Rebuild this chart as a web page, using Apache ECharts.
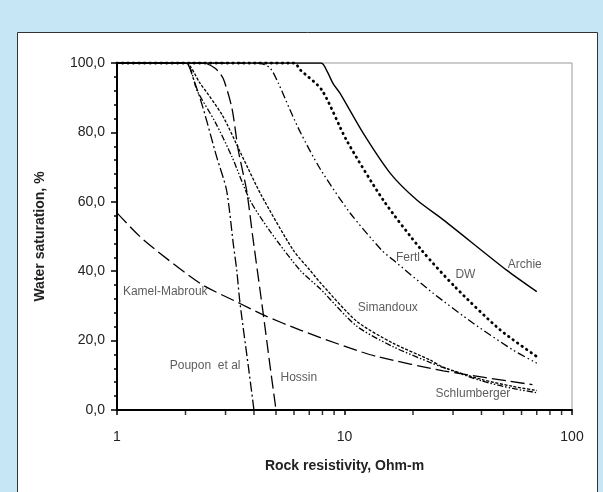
<!DOCTYPE html>
<html>
<head>
<meta charset="utf-8">
<script src="https://cdn.jsdelivr.net/npm/echarts@6/dist/echarts.min.js"></script>
<style>
html, body { margin: 0; padding: 0; background: #c6e6f6; }
#chart { width: 603px; height: 492px; }
</style>
</head>
<body>
<div id="chart"></div>
<script>
// curves: [resistivity, water saturation %]
var archie = [[1,100],[7.9,100],[8.4,97.5],[8.9,94.1],[9.55,91.3],[12.1,79.7],[15.9,68.2],[20.8,60.5],[27.2,54.8],[51.6,40.3],[70,34.1]];
var dw = [[1,100],[6.0,100],[6.4,98],[7.95,92.2],[10.2,77.8],[14.8,60.5],[21.8,46.1],[30.6,35.5],[48.3,23.1],[70,15.4]];
var fertl = [[1,100],[4.2,100],[4.7,98.6],[5.12,94.2],[5.76,86.5],[6.4,80],[7.8,69.6],[10.6,56.7],[14.6,46],[16.4,43.2],[24.6,33.6],[36.8,25],[55,17.3],[70,13.5]];
var simandoux = [[1,100],[2.0,100],[2.3,94.5],[2.9,85],[3.5,74],[4.3,62],[5.96,46],[7.05,40.3],[7.8,36.8],[11.3,25.6],[16.4,19.2],[23.8,14.4],[27,12.4],[40,8.8],[55,6.8],[70,5.6]];
var schlumberger = [[1,100],[2.0,100],[2.25,92],[2.7,83],[3.2,73],[3.84,60.5],[4.71,51.5],[6.37,40.3],[7.8,35],[11.3,24.2],[16.4,18.2],[24,13.6],[27,12.3],[40,8.4],[55,6.2],[70,5.0]];
var kamelMabrouk = [[1,56.8],[1.31,49],[2.32,36.5],[3.47,30.7],[4.4,27.4],[6.4,23],[10.6,17.8],[13.9,15.4],[27.2,11.3],[67,7.3]];
var poupon = [[1,100],[2.0,100],[2.16,95.7],[2.39,87],[2.74,73],[3.03,63.4],[3.25,47.5],[3.36,40.3],[3.47,31],[3.78,12.5],[4.0,0]];
var hossin = [[1,100],[2.4,100],[2.7,98.5],[2.93,95.5],[3.2,87],[3.41,75],[3.72,63],[3.95,50],[4.4,27.4],[4.7,13],[5.0,0]];

// curve names written on the plot, at [resistivity, saturation]
var labelNames = ['Archie','DW','Fertl','Simandoux','Schlumberger','Kamel-Mabrouk','Poupon  et al','Hossin'];
var labelPos = [[62,41.8],[34,38.9],[19,43.8],[15.5,29.4],[36.7,4.6],[1.63,34],[2.44,12.7],[6.3,9.2]];

var yTicks = [0,20,40,60,80,100];
var xMinorTicks = [2,3,4,5,6,7,8,9,20,30,40,50,60,70,80,90];

var font = 'Liberation Sans, Arial, sans-serif';

var curve = function(name, data, type, width, cap){
	return {
		name: name,
		type: 'line',
		data: data,
		symbol: 'none',
		smooth: 0.25,
		silent: true,
		lineStyle: { color: '#000', width: width || 1.3, type: type, cap: cap || 'butt' },
		z: 3
	};
};

var myChart = echarts.init(document.getElementById('chart'));
var option = {
	animation: false,
	backgroundColor: '#c6e6f6',
	textStyle: { fontFamily: font },
	graphic: [{
		type: 'rect',
		shape: { x: 17.5, y: 32.5, width: 580, height: 480 },
		style: { fill: '#fff', stroke: '#333', lineWidth: 1 },
		z: -1
	}],
	grid: {
		left: 117, top: 63, width: 455, height: 347,
		show: true, borderColor: '#999', borderWidth: 1
	},
	xAxis: {
		type: 'log',
		logBase: 10,
		min: 1,
		max: 100,
		name: 'Rock resistivity, Ohm-m',
		nameLocation: 'middle',
		nameGap: 49,
		nameTextStyle: { fontSize: 14, fontWeight: 'bold', color: '#222', fontFamily: font },
		axisLine: { lineStyle: { color: '#000', width: 2 } },
		axisTick: { length: 5, lineStyle: { color: '#000', width: 1.5 } },
		axisLabel: { margin: 20, fontSize: 14, color: '#222', fontFamily: font },
		splitLine: { show: false }
	},
	yAxis: {
		type: 'value',
		min: 0,
		max: 100,
		interval: 20,
		name: 'Water saturation, %',
		nameLocation: 'middle',
		nameGap: 70,
		nameTextStyle: { fontSize: 14, fontWeight: 'bold', color: '#222', fontFamily: font },
		axisLine: { show: true, lineStyle: { color: '#000', width: 2 } },
		axisTick: { show: true, length: 6, lineStyle: { color: '#000', width: 1.5 } },
		minorTick: { show: true, splitNumber: 5, length: 3, lineStyle: { color: '#000', width: 1.5 } },
		axisLabel: {
			margin: 12, fontSize: 14, color: '#222', fontFamily: font,
			formatter: function(v){ return yTicks.indexOf(v) >= 0 ? v.toFixed(1).replace('.', ',') : ''; }
		},
		splitLine: { show: false }
	},
	series: [
		curve('Archie', archie, 'solid', 1.4),
		curve('DW', dw, [0.5, 5], 2.8, 'round'),
		curve('Fertl', fertl, [8, 3, 1.5, 3, 1.5, 3]),
		curve('Simandoux', simandoux, [3, 1.6]),
		curve('Schlumberger', schlumberger, [6, 2, 1.5, 2, 1.5, 2]),
		curve('Kamel-Mabrouk', kamelMabrouk, [14, 5]),
		curve('Poupon et al', poupon, [10, 3, 2, 3]),
		curve('Hossin', hossin, [13, 5]),
		{
			name: 'xMinor',
			type: 'scatter',
			silent: true,
			clip: false,
			symbol: 'rect',
			symbolSize: [1.5, 4],
			symbolOffset: [0, 3],
			itemStyle: { color: '#000' },
			data: xMinorTicks.map(function(v){ return [v, 0]; }),
			z: 4
		},
		{
			name: 'labels',
			type: 'scatter',
			silent: true,
			symbolSize: 1,
			itemStyle: { color: 'rgba(0,0,0,0)' },
			label: {
				show: true,
				position: 'inside',
				fontSize: 12,
				color: '#333',
				fontFamily: font,
				formatter: function(p){ return labelNames[p.dataIndex]; }
			},
			data: labelPos,
			z: 5
		}
	]
};
myChart.setOption(option);
window.onresize = function(){
	myChart.resize();
};
</script>
</body>
</html>
